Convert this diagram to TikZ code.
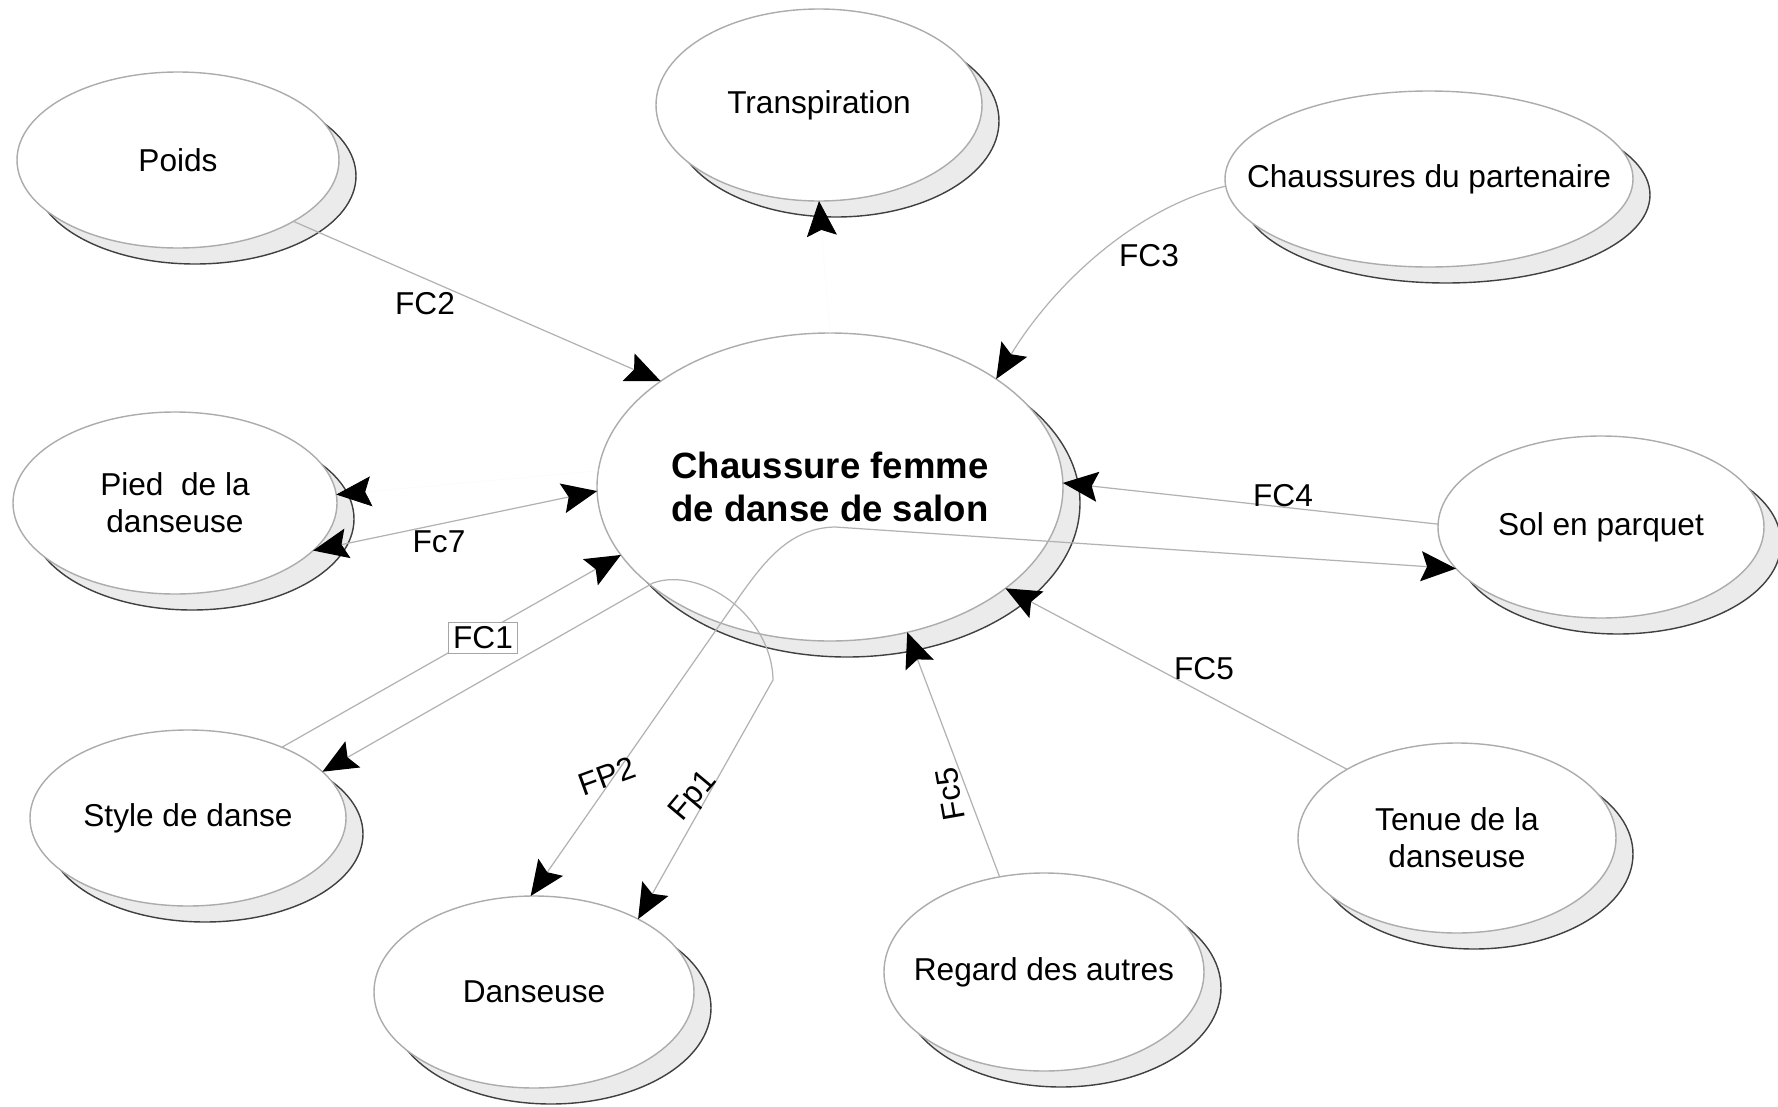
\documentclass[tikz,border=0pt]{standalone}
\usepackage{fontspec}
\setmainfont{Liberation Sans}
\usetikzlibrary{shapes.geometric,shadows,arrows.meta}

\tikzset{
  bulle/.style={ellipse,draw=gray!65,fill=white,inner xsep=-4mm,inner ysep=0pt,outer sep=0pt,
    align=center,font=\fontsize{9}{10.5}\selectfont,
    drop shadow={shadow xshift=1.7mm,shadow yshift=-1.6mm,opacity=1,
      fill=gray!16,draw=gray!50!black}},
  lien/.style={draw=gray!60,line width=0.35pt},
  fantome/.style={draw=gray!3,line width=0.2pt},
  pointe/.style={-{Stealth[length=3.5mm,width=3mm,inset=0.6mm,black]}},
  pointes/.style={{Stealth[length=3.5mm,width=3mm,inset=0.6mm,black]}-{Stealth[length=3.5mm,width=3mm,inset=0.6mm,black]}},
  etiq/.style={inner sep=0pt,font=\fontsize{9}{10.5}\selectfont}
}

\begin{document}
\begin{tikzpicture}[x=0.1mm,y=0.1mm]
  \useasboundingbox (0,0) rectangle (1778,-1107);
  % product in the middle
  \node[bulle,minimum width=46.6mm,minimum height=30.8mm,
    font=\fontsize{10.4}{12.2}\selectfont\bfseries] (shoe) at (830,-487)
    {Chaussure femme\\de danse de salon};
  % surrounding elements
  \node[bulle,minimum width=32.2mm,minimum height=17.6mm] (poids) at (178,-160) {Poids};
  \node[bulle,minimum width=32.6mm,minimum height=19.2mm] (transp) at (819,-105) {Transpiration};
  \node[bulle,minimum width=40.8mm,minimum height=17.6mm] (partenaire) at (1429,-179) {Chaussures du partenaire};
  \node[bulle,minimum width=32.4mm,minimum height=18.2mm] (pied) at (175,-503) {Pied\ \ de la\\danseuse};
  \node[bulle,minimum width=32.6mm,minimum height=18.2mm] (sol) at (1601,-527) {Sol en parquet};
  \node[bulle,minimum width=31.6mm,minimum height=17.6mm] (style) at (188,-818) {Style de danse};
  \node[bulle,minimum width=32mm,minimum height=19.2mm] (danseuse) at (534,-992) {Danseuse};
  \node[bulle,minimum width=32mm,minimum height=19.8mm] (regard) at (1044,-972) {Regard des autres};
  \node[bulle,minimum width=31.8mm,minimum height=19mm] (tenue) at (1457,-838) {Tenue de la\\danseuse};
  % principal functions, through the product
  \coordinate (fp2a) at (737,-600); \coordinate (fp2b) at (835,-527);
  \coordinate (fp1a) at (653,-583); \coordinate (fp1b) at (773,-680);
  \draw[lien,pointes] (danseuse.92) -- (fp2a) .. controls (765,-560) and (790,-528)
    .. (fp2b) -- (sol.196);
  \draw[lien,pointes] (style.19) -- (fp1a) .. controls (700,-566) and (772,-615)
    .. (fp1b) -- (danseuse.35);
  % constraint functions
  \draw[lien,pointe] (poids.-28) -- (shoe.148);
  \draw[lien,pointe] (partenaire.182) .. controls (1130,-210) and (1050,-290) .. (shoe.33);
  \draw[lien,pointe] (sol.179) -- (shoe.1);
  \draw[lien,pointe] (tenue.148) -- (shoe.-30);
  \draw[lien,pointe] (regard.115) -- (shoe.-62);
  \draw[lien,pointe] (style.37) -- (shoe.198);
  \draw[lien,pointes] (pied.-19) -- (shoe.181);
  % heads left without a visible line
  \draw[fantome,pointe] (shoe.90) -- (transp.-90);
  \draw[fantome,pointe] (shoe.176) -- (pied.3);
  % labels
  \node[etiq] (lfc2) at (425,-304) {FC2};
  \node[etiq] (lfc3) at (1149,-256) {FC3};
  \node[etiq] (lfc4) at (1283,-496) {FC4};
  \node[etiq] (lfc5) at (1204,-669) {FC5};
  \node[etiq,rotate=100] (lfc5b) at (950,-794) {Fc5};
  \node[etiq,draw=gray!70,fill=white,inner sep=1.3pt,line width=0.3pt] (lfc1) at (483,-638) {FC1};
  \node[etiq] (lfc7) at (439,-542) {Fc7};
  \node[etiq,rotate=20] (lfp2) at (607,-776) {FP2};
  \node[etiq,rotate=50] (lfp1) at (694,-797) {Fp1};
\end{tikzpicture}
\end{document}
